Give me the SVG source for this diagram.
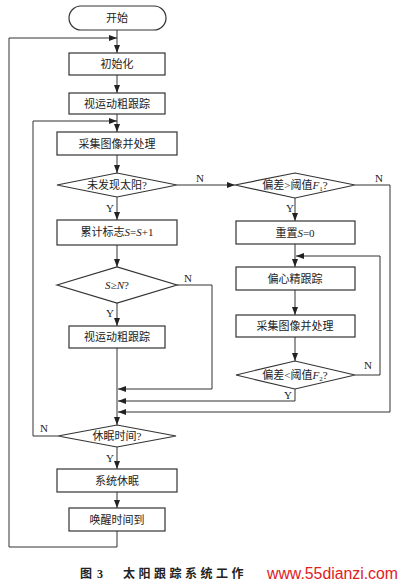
<svg xmlns="http://www.w3.org/2000/svg" width="400" height="583" viewBox="0 0 400 583">
<defs>
<marker id="ah" viewBox="0 0 8 6" refX="8" refY="3" markerWidth="8" markerHeight="6" markerUnits="userSpaceOnUse" orient="auto">
<path d="M0,0 L8,3 L0,6 z" fill="#222"/>
</marker>
</defs>
<style>
.n{fill:#fff;stroke:#333;stroke-width:1.2}
.t{font-family:"Liberation Serif","Noto Sans CJK SC",serif;font-size:11px;fill:#222;text-anchor:middle}
.l{font-family:"Liberation Serif","Noto Sans CJK SC",serif;font-size:11px;fill:#222}
.c{fill:none;stroke:#333;stroke-width:1}
.a{marker-end:url(#ah)}
.cap{font-family:"Liberation Serif","Noto Sans CJK SC",serif;font-size:12px;font-weight:bold;fill:#222}
</style>
<rect width="400" height="583" fill="#fff"/>
<g id="connectors">
<path class="c a" d="M117,30 V53"/>
<path class="c a" d="M117,531 V547 H9 V38 H117"/>
<path class="c a" d="M117,75 V93"/>
<path class="c a" d="M117,114 V132"/>
<path class="c a" d="M58,436 H33 V121 H117"/>
<path class="c a" d="M117,155 V173"/>
<path class="c a" d="M177,185 H235"/>
<path class="c a" d="M117,197 V220"/>
<path class="c a" d="M117,245 V267"/>
<path class="c a" d="M177,285 H212 V389 H118"/>
<path class="c a" d="M117,303 V326"/>
<path class="c a" d="M117,348 V425"/>
<path class="c a" d="M117,447 V469"/>
<path class="c a" d="M117,492 V508"/>
<path class="c a" d="M355,185 H390 V412 H118"/>
<path class="c a" d="M295,198 V221"/>
<path class="c a" d="M295,244 V267"/>
<path class="c a" d="M355,375 H380 V256 H296"/>
<path class="c a" d="M295,290 V315"/>
<path class="c a" d="M295,337 V361"/>
<path class="c a" d="M295,389 V401 H118"/>
<text class="l" x="196" y="182">N</text>
<text class="l" x="106" y="212">Y</text>
<text class="l" x="184" y="282">N</text>
<text class="l" x="106" y="317">Y</text>
<text class="l" x="40" y="432">N</text>
<text class="l" x="106" y="462">Y</text>
<text class="l" x="375" y="182">N</text>
<text class="l" x="286" y="212">Y</text>
<text class="l" x="364" y="369">N</text>
<text class="l" x="284" y="399">Y</text>
</g>
<g id="start"><rect class="n" x="69" y="6" width="97" height="24" rx="12"/><text class="t" x="117" y="22">开始</text></g>
<g id="init"><rect class="n" x="69" y="53" width="96" height="22"/><text class="t" x="117" y="68">初始化</text></g>
<g id="coarse1"><rect class="n" x="69" y="93" width="96" height="21"/><text class="t" x="117" y="108">视运动粗跟踪</text></g>
<g id="capture1"><rect class="n" x="57" y="132" width="120" height="23"/><text class="t" x="117" y="148">采集图像并处理</text></g>
<g id="d_sun"><path class="n" d="M57,185 L117,173 L177,185 L117,197 z"/><text class="t" x="117" y="189">未发现太阳?</text></g>
<g id="count"><rect class="n" x="57" y="220" width="120" height="25"/><text class="t" x="117" y="236">累计标志<tspan font-style="italic">S</tspan>=<tspan font-style="italic">S</tspan>+1</text></g>
<g id="d_sn"><path class="n" d="M57,285 L117,267 L177,285 L117,303 z"/><text class="t" x="117" y="289"><tspan font-style="italic">S</tspan>≥<tspan font-style="italic">N</tspan>?</text></g>
<g id="coarse2"><rect class="n" x="69" y="326" width="96" height="22"/><text class="t" x="117" y="341">视运动粗跟踪</text></g>
<g id="d_sleep"><path class="n" d="M58,436 L117,425 L176,436 L117,447 z"/><text class="t" x="117" y="440">休眠时间?</text></g>
<g id="sleep"><rect class="n" x="57" y="469" width="120" height="23"/><text class="t" x="117" y="485">系统休眠</text></g>
<g id="wake"><rect class="n" x="69" y="508" width="96" height="23"/><text class="t" x="117" y="524">唤醒时间到</text></g>
<g id="d_f1"><path class="n" d="M235,185 L295,173 L355,185 L295,198 z"/><text class="t" x="295" y="189">偏差&gt;阈值<tspan font-style="italic">F</tspan><tspan font-size="7" dy="2">1</tspan><tspan dy="-2">?</tspan></text></g>
<g id="reset"><rect class="n" x="236" y="221" width="119" height="23"/><text class="t" x="295" y="237">重置<tspan font-style="italic">S</tspan>=0</text></g>
<g id="fine"><rect class="n" x="236" y="267" width="119" height="23"/><text class="t" x="295" y="283">偏心精跟踪</text></g>
<g id="capture2"><rect class="n" x="236" y="315" width="119" height="22"/><text class="t" x="295" y="330">采集图像并处理</text></g>
<g id="d_f2"><path class="n" d="M236,375 L295,361 L355,375 L295,389 z"/><text class="t" x="295" y="379">偏差&lt;阈值<tspan font-style="italic">F</tspan><tspan font-size="7" dy="2">2</tspan><tspan dy="-2">?</tspan></text></g>
<g id="caption">
<text class="cap" x="80" y="578">图</text>
<text class="cap" x="97" y="578">3</text>
<text class="cap" x="123" y="578" letter-spacing="3.5">太阳跟踪系统工作</text>
<text x="267" y="579" font-family="Liberation Sans,Arial,sans-serif" font-size="16" fill="#e0201c" textLength="131" lengthAdjust="spacingAndGlyphs">www.55dianzi.com</text>
</g>
</svg>
